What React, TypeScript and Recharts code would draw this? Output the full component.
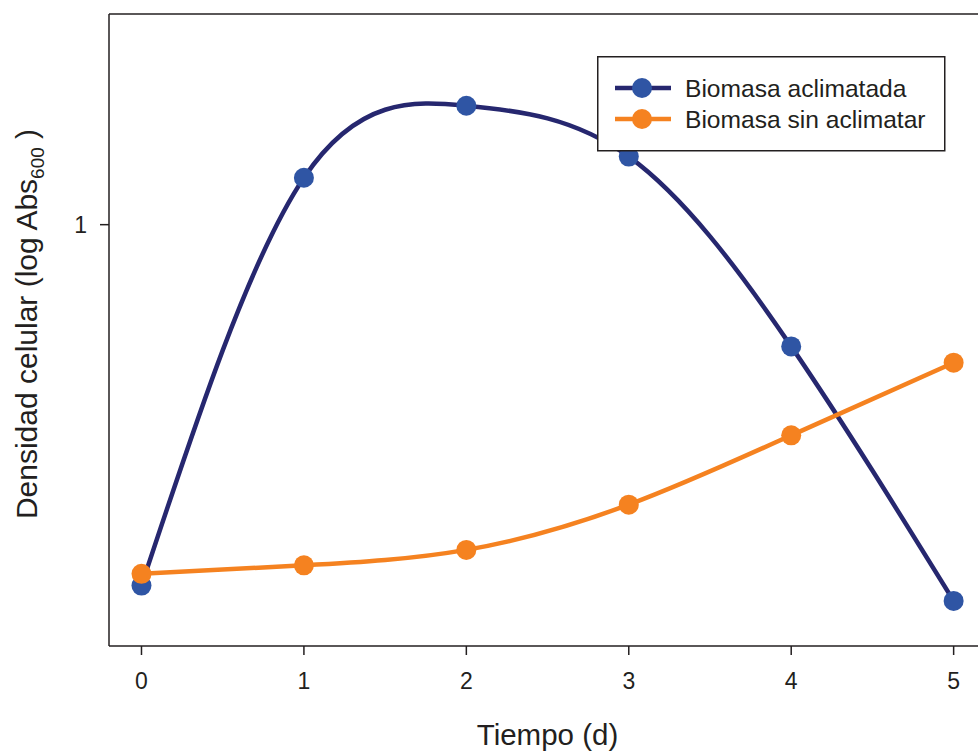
import {
  Label,
  Line,
  LineChart,
  ReferenceLine,
  XAxis,
  YAxis,
} from "recharts";

const dias = [0, 1, 2, 3, 4, 5];
const aclimatada = [0.305, 1.167, 1.479, 1.251, 0.67, 0.29];
const sinAclimatar = [0.317, 0.326, 0.343, 0.398, 0.5, 0.635];
const xTicks = [0, 1, 2, 3, 4, 5];
const yTicks = [1];

const series = [
  { key: "aclimatada", name: "Biomasa aclimatada", line: "#26276f", dot: "#2f55a4" },
  { key: "sinAclimatar", name: "Biomasa sin aclimatar", line: "#f58220", dot: "#f58220" },
];

const data = dias.map((d, i) => ({
  dia: d,
  aclimatada: aclimatada[i],
  sinAclimatar: sinAclimatar[i],
}));

const FONT = "'Liberation Sans', Arial, Helvetica, sans-serif";
const INK = "#231f20";

const LegendBox = () => (
  <svg width={350} height={97} style={{ display: "block" }}>
    <rect x={0.75} y={0.75} width={347} height={94} fill="#fff" stroke={INK} strokeWidth={1.5} />
    {series.map((s, i) => (
      <g key={s.key} transform={`translate(0, ${32 + i * 31})`}>
        <line x1={18} x2={74} y1={0} y2={0} stroke={s.line} strokeWidth={4.5} />
        <circle cx={45} cy={0} r={10} fill={s.dot} />
        <text x={88} y={8.5} fontSize={24.6} fill={INK} fontFamily={FONT}>
          {s.name}
        </text>
      </g>
    ))}
  </svg>
);

const YTitle = (props: any) => {
  const vb = props.viewBox || { x: 0, y: 0, width: 0, height: 0 };
  const cy = vb.y + vb.height / 2 - 6;
  return (
    <text
      x={37}
      y={cy}
      transform={`rotate(-90, 37, ${cy})`}
      textAnchor="middle"
      fontSize={30}
      fill={INK}
      fontFamily={FONT}
    >
      Densidad celular (log Abs
      <tspan fontSize={19} dy={7}>600</tspan>
      <tspan dy={-7}> )</tspan>
    </text>
  );
};

const XTitle = (props: any) => {
  const vb = props.viewBox || { x: 0, y: 0, width: 0, height: 0 };
  return (
    <text
      x={vb.x + vb.width / 2 + 4}
      y={745}
      textAnchor="middle"
      fontSize={29.5}
      fill={INK}
      fontFamily={FONT}
    >
      Tiempo (d)
    </text>
  );
};

const App = () => {
  return (
    <div style={{ position: "absolute", left: 0, top: 0, background: "#fff" }}>
      <LineChart
        width={978}
        height={751}
        data={data}
        margin={{ top: 14, right: 0, left: 0, bottom: 0 }}
      >
        <XAxis
          dataKey="dia"
          type="number"
          domain={[-0.2, 5.15]}
          ticks={xTicks}
          allowDataOverflow
          height={105}
          tickSize={9}
          tickMargin={18}
          stroke={INK}
          strokeWidth={1.5}
          tick={{ fontSize: 23, fill: INK, fontFamily: FONT }}
        >
          <Label content={<XTitle />} />
        </XAxis>
        <YAxis
          scale="log"
          domain={[0.25, 2]}
          ticks={yTicks}
          allowDataOverflow
          width={109}
          tickSize={9}
          tickMargin={13}
          stroke={INK}
          strokeWidth={1.5}
          tick={{ fontSize: 23, fill: INK, fontFamily: FONT }}
        >
          <Label content={<YTitle />} />
        </YAxis>
        <ReferenceLine y={2} stroke={INK} strokeWidth={1.5} />
        {series.map((s) => (
          <Line
            key={s.key}
            type="natural"
            dataKey={s.key}
            name={s.name}
            stroke={s.line}
            strokeWidth={4.5}
            dot={{ r: 10, fill: s.dot, stroke: "none" }}
            activeDot={false}
            isAnimationActive={false}
          />
        ))}
      </LineChart>
      <div style={{ position: "absolute", left: 597, top: 56 }}>
        <LegendBox />
      </div>
    </div>
  );
};

export default App;
